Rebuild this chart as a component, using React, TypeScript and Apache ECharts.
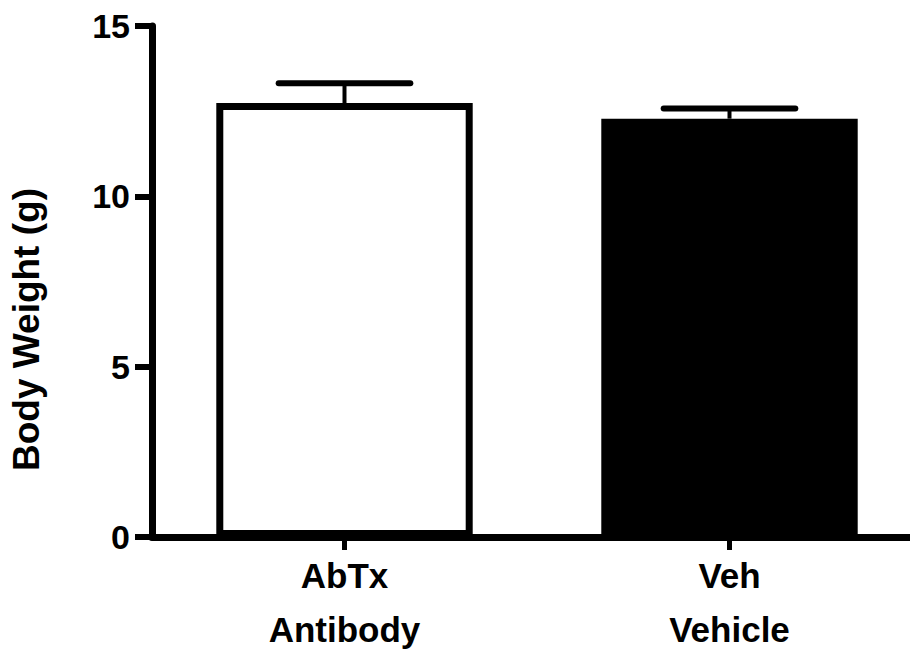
import React, { useEffect, useRef } from "react";
import * as echarts from "echarts";

const categories = ["AbTx\nAntibody", "Veh\nVehicle"];
const means = [12.74, 12.28];
const sems = [0.58, 0.3];
const fills = ["#ffffff", "#000000"];
const yTicks = [0, 5, 10, 15];

const FONT = "'Liberation Sans', Arial, Helvetica, sans-serif";

export default function App() {
  const ref = useRef<HTMLDivElement>(null);

  useEffect(() => {
    if (!ref.current) return;
    const chart = echarts.init(ref.current, null, { renderer: "svg" });

    const barData = means.map((v, i) => ({
      value: v,
      itemStyle: { color: fills[i], borderColor: "#000", borderWidth: 7 },
    }));
    const errData = means.map((v, i) => [i, v, sems[i]]);

    chart.setOption({
      animation: false,
      backgroundColor: "#ffffff",
      grid: { left: 151, right: 0, top: 26, bottom: 115.3, containLabel: false },
      xAxis: {
        type: "category",
        data: categories,
        axisLine: { show: true, lineStyle: { color: "#000", width: 7 } },
        axisTick: { show: true, alignWithLabel: true, length: 13, lineStyle: { color: "#000", width: 5 } },
        axisLabel: {
          color: "#000",
          fontFamily: FONT,
          fontWeight: "bold",
          fontSize: 35,
          lineHeight: 54,
          margin: 11,
        },
      },
      yAxis: {
        type: "value",
        min: yTicks[0],
        max: yTicks[yTicks.length - 1],
        interval: 5,
        name: "Body Weight (g)",
        nameLocation: "middle",
        nameGap: 107,
        nameTextStyle: {
          color: "#000",
          fontFamily: FONT,
          fontWeight: "bold",
          fontSize: 37,
          padding: [0, 96, 0, 0],
        },
        splitLine: { show: false },
        axisLine: { show: true, lineStyle: { color: "#000", width: 7 } },
        axisTick: { show: true, length: 17, lineStyle: { color: "#000", width: 6 } },
        axisLabel: {
          color: "#000",
          fontFamily: FONT,
          fontWeight: "bold",
          fontSize: 34,
          margin: 22,
        },
      },
      series: [
        {
          type: "bar",
          data: barData,
          barWidth: "66.6%",
          z: 2,
        },
        {
          type: "custom",
          z: 3,
          data: errData,
          renderItem: (params: any, api: any) => {
            const x = api.value(0);
            const v = api.value(1);
            const e = api.value(2);
            const base = api.coord([x, v]);
            const top = api.coord([x, v + e]);
            const bw = api.size([1, 0])[0];
            const half = bw * 0.171;
            return {
              type: "group",
              children: [
                {
                  type: "line",
                  shape: { x1: base[0], y1: base[1], x2: top[0], y2: top[1] },
                  style: { stroke: "#000", lineWidth: 4 },
                },
                {
                  type: "line",
                  shape: { x1: top[0] - half, y1: top[1], x2: top[0] + half, y2: top[1] },
                  style: { stroke: "#000", lineWidth: 6, lineCap: "round" },
                },
              ],
            };
          },
        },
      ],
    });

    return () => chart.dispose();
  }, []);

  return (
    <div
      ref={ref}
      style={{ position: "fixed", left: 0, top: 0, width: 922, height: 656, background: "#fff" }}
    />
  );
}
